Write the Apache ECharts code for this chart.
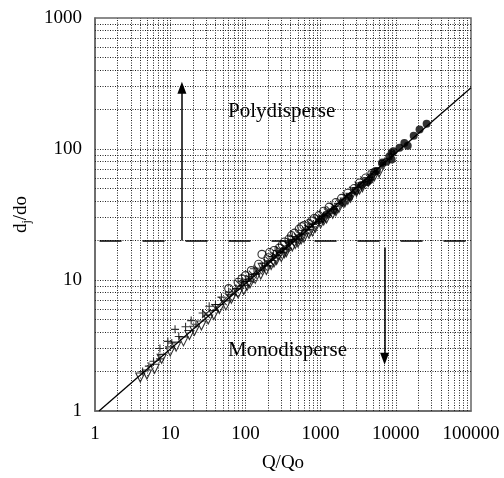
<!DOCTYPE html>
<html>
<head>
<meta charset="utf-8">
<script src="https://cdn.jsdelivr.net/npm/echarts@6/dist/echarts.min.js"></script>
<style>html,body{margin:0;padding:0;background:#fff}#c{width:504px;height:478px}</style>
</head>
<body>
<div id="c"></div>
<script>
// ---- data ----
const xTicks = [1, 10, 100, 1000, 10000, 100000];
const yTicks = [1, 10, 100, 1000];
const xMinorGrid = [2,3,4,5,6,7,8,9,10,20,30,40,50,60,70,80,90,100,200,300,400,500,600,700,800,900,1000,2000,3000,4000,5000,6000,7000,8000,9000,10000,20000,30000,40000,50000,60000,70000,80000,90000];
const yMinorGrid = [2,3,4,5,6,7,8,9,10,20,30,40,50,60,70,80,90,100,200,300,400,500,600,700,800,900];
const fitLine = [[1.13, 1], [100000, 293]];
const threshold = 20;
const upArrow = [[14.3, 20], [14.3, 294]];
const downArrow = [[7100, 17.7], [7100, 2.5]];

const plusPts = [[4.3,2.0],[5.2,2.2],[6.0,2.4],[7.3,2.5],[7.3,3.0],[9.3,3.4],[10.5,3.3],[11.6,4.2],[13,3.7],[16,4.4],[19,4.9],[22,4.6],[27,5.6],[33,6.3],[40,6.5],[48,7.4],[60,8.1],[75,8.6],[90,9.8],[110,10.6],[140,11.2],[180,13.5],[230,15.1],[300,16.4],[380,19.2],[480,20.5],[620,24],[800,26.5],[1100,31],[1500,35],[130,12.2],[200,12.8],[260,16.8],[350,17.2],[420,21.5],[560,22.2],[700,25.5],[950,28]];
const triPts = [[4.0,1.8],[4.9,1.9],[6.2,2.1],[7.7,2.5],[10,2.85],[12,3.1],[15,3.4],[18,3.8],[21,4.1],[26,4.5],[32,5.0],[38,5.4],[45,6.0],[55,6.4],[65,7.2],[80,7.9],[95,8.4],[115,9.4],[135,10.2],[160,11.0],[190,11.9],[220,13.0],[260,14.2],[300,15.0],[350,16.3],[420,18.0],[500,19.3],[600,21],[700,22.5],[850,25],[1000,27],[1200,29.5],[1450,32],[1750,35.5],[2100,39],[2500,42.5],[3000,47],[3600,51],[4300,56],[5200,62],[6000,66],[105,9.0],[170,12.4],[240,13.6],[330,16.0],[460,18.8],[550,20.4],[780,23.5],[1100,28.5],[1600,33.5],[2300,41],[3300,49]];
const circlePts = [[60,8.6],[80,9.6],[100,10.8],[120,11.8],[150,13.2],[166,15.7],[200,14.8],[240,16.8],[280,17.5],[330,19.5],[380,20.5],[450,22.8],[520,24.5],[600,26],[700,27],[820,29.5],[950,31],[1100,33.5],[1300,36],[1600,39],[1900,42],[2300,46],[2800,50],[3300,55],[4000,60],[4800,65],[90,10.2],[210,16.2],[310,18.6],[410,21.8],[560,25.5],[760,28.2]];
const xmarkPts = [[30,5.5],[40,6.1],[50,6.9],[70,8.0],[85,9.2],[100,9.6],[125,11.0],[150,11.8],[175,12.6],[210,14.0],[250,15.3],[290,16.8],[340,17.6],[400,19.5],[460,20.3],[540,22.4],[640,23.8],[760,26.2],[900,28.6],[1050,29.6],[1250,32.8],[1500,36.2],[1800,38.5],[2200,43.5],[2700,48],[3200,52.5],[3800,57.5],[60,7.4],[115,10.2],[195,13.4],[270,15.8],[370,18.4],[500,21.2],[700,24.8],[980,29.4],[1350,34.2]];
const dotPts = [[1000,29],[1200,31.5],[1500,34],[1950,39],[2400,43],[2900,48],[3500,53],[4200,56],[4500,58],[4700,61],[5200,67],[5600,68],[6600,77],[6600,79],[7500,80],[8200,87.7],[8800,83],[8800,93.5],[9300,96],[11200,102],[13000,111],[14400,106],[17300,126],[20700,141],[25700,156]];

// ---- chart ----
const FONT = '"Liberation Serif", "Times New Roman", serif';
const chart = echarts.init(document.getElementById('c'));
const gridStyle = {type: [1, 1.5], color: '#222', width: 1};
const openStyle = {color: 'rgba(0,0,0,0)', borderColor: '#000', borderWidth: 1.1};

chart.setOption({
  animation: false,
  backgroundColor: '#fff',
  grid: {left: 95, right: 33, top: 18, bottom: 66, show: true, borderColor: '#666', borderWidth: 1.5, backgroundColor: 'transparent'},
  xAxis: {
    type: 'log', logBase: 10, min: 1, max: 100000,
    name: 'Q/Qo', nameLocation: 'middle', nameGap: 43,
    nameTextStyle: {fontFamily: FONT, fontSize: 19, color: '#000'},
    axisLine: {show: true, lineStyle: {color: '#666', width: 1.5}},
    axisTick: {show: false},
    splitLine: {show: false},
    axisLabel: {fontFamily: FONT, fontSize: 19, color: '#000', margin: 14,
      formatter: v => xTicks.indexOf(v) >= 0 ? String(v) : ''}
  },
  yAxis: {
    type: 'log', logBase: 10, min: 1, max: 1000,
    name: '{a|d}{b|j}{a|/do}', nameLocation: 'middle', nameGap: 58, nameRotate: 90,
    nameTextStyle: {fontFamily: FONT, fontSize: 19, color: '#000',
      rich: {a: {fontFamily: FONT, fontSize: 19, color: '#000', lineHeight: 24, verticalAlign: 'middle'},
             b: {fontFamily: FONT, fontSize: 12, color: '#000', lineHeight: 24, padding: [12, 0, 0, 0], verticalAlign: 'middle'}}},
    axisLine: {show: true, lineStyle: {color: '#666', width: 1.5}},
    axisTick: {show: false},
    splitLine: {show: false},
    axisLabel: {fontFamily: FONT, fontSize: 19, color: '#000', margin: 13,
      formatter: v => yTicks.indexOf(v) >= 0 ? String(v) : ''}
  },
  graphic: [
    {type: 'text', left: 228, top: 101, style: {text: 'Polydisperse', fontFamily: FONT, fontSize: 21, fill: '#000'}},
    {type: 'text', left: 228, top: 340, style: {text: 'Monodisperse', fontFamily: FONT, fontSize: 21, fill: '#000'}}
  ],
  series: [
    {
      type: 'line', data: [], silent: true,
      markLine: {silent: true, symbol: ['none', 'none'], label: {show: false}, lineStyle: gridStyle,
        data: xMinorGrid.map(v => ({xAxis: v})).concat(yMinorGrid.map(v => ({yAxis: v})))}
    },
    {
      type: 'line', data: [], silent: true,
      markLine: {silent: true, symbol: ['none', 'none'], label: {show: false},
        lineStyle: {type: [22, 21], color: '#000', width: 1.5},
        data: [[{coord: [1.15, threshold]}, {coord: [100000, threshold]}]]}
    },
    {
      type: 'line', data: [], silent: true,
      markLine: {silent: true, symbol: ['none', 'triangle'], symbolSize: [9, 12], label: {show: false},
        lineStyle: {type: 'solid', color: '#000', width: 1.5},
        data: [[{coord: upArrow[0]}, {coord: upArrow[1]}], [{coord: downArrow[0]}, {coord: downArrow[1]}]]}
    },
    {type: 'line', data: fitLine, symbol: 'none', lineStyle: {color: '#000', width: 1.3}, silent: true, z: 5},
    {type: 'scatter', data: triPts, symbol: 'triangle', symbolRotate: 180, symbolSize: 9, itemStyle: openStyle, z: 4},
    {type: 'scatter', data: circlePts, symbol: 'circle', symbolSize: 8, itemStyle: openStyle, z: 4},
    {type: 'scatter', data: plusPts, symbol: 'path://M0,5L10,5M5,0L5,10', symbolSize: 8, itemStyle: openStyle, z: 4},
    {type: 'scatter', data: xmarkPts, symbol: 'path://M0,0L10,10M10,0L0,10', symbolSize: 8, itemStyle: openStyle, z: 4},
    {type: 'scatter', data: dotPts, symbol: 'circle', symbolSize: 8, itemStyle: {color: '#000'}, z: 4}
  ]
});
</script>
</body>
</html>
